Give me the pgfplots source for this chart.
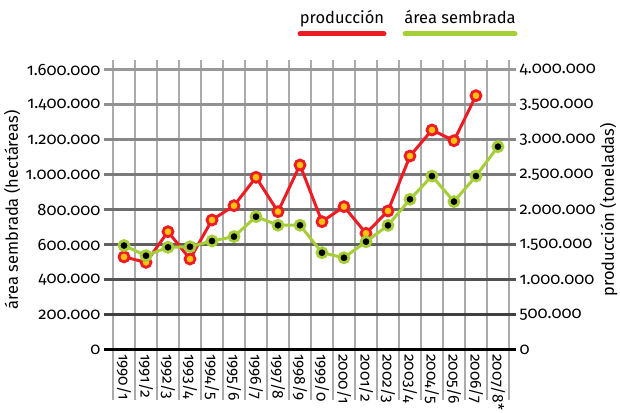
\documentclass[border=0pt]{standalone}
\usepackage{fontspec}
\setmainfont{Fira Sans}[Numbers=OldStyle]
\usepackage{pgfplots}
\pgfplotsset{compat=1.18}

\definecolor{rojo}{HTML}{ED1C24}
\definecolor{verde}{HTML}{A6CE39}
\definecolor{amarillo}{HTML}{FFC20E}
\definecolor{rejilla}{HTML}{ABABAB}

\pgfplotsset{
  base/.style={
    scale only axis, width=412pt, height=340pt,
    at={(104pt,12pt)}, anchor=south west,
    xmin=-0.91, xmax=17.82,
    yticklabel style={font=\fontsize{16.5}{16.5}\selectfont},
    xticklabel style={font=\fontsize{15.5}{15.5}\selectfont},
    label style={font=\fontsize{16.5}{16.5}\selectfont},
    /pgf/number format/fixed,
    /pgf/number format/precision=0,
    /pgf/number format/1000 sep={.},
    /pgf/number format/assume math mode=true,
    scaled y ticks=false,
    major tick length=0pt,
    clip=false,
  }
}

\begin{document}
\begin{tikzpicture}
\useasboundingbox (0,0) rectangle (620pt,412pt);

% eje derecho: produccion (rejilla + serie roja)
\begin{axis}[base,
  ymin=-714286, ymax=4142857,
  axis y line*=right, axis x line*=bottom,
  y axis line style={draw=none}, x axis line style={draw=none},
  ytick={0,500000,...,4000000},
  xtick={-0.5,0.5,...,17.5}, xticklabels={},
  xmajorgrids, x grid style={rejilla, line width=1.5pt},
  ylabel={producción (toneladas)},
  ylabel style={at={(axis description cs:1.225,0.559)}, anchor=center},
]
\draw[line width=3pt, black!40] (axis cs:-0.91,4000000) -- (axis cs:17.82,4000000);
\draw[line width=3pt, black!43] (axis cs:-0.91,3500000) -- (axis cs:17.82,3500000);
\draw[line width=3pt, black!47] (axis cs:-0.91,3000000) -- (axis cs:17.82,3000000);
\draw[line width=3pt, black!52] (axis cs:-0.91,2500000) -- (axis cs:17.82,2500000);
\draw[line width=3pt, black!57] (axis cs:-0.91,2000000) -- (axis cs:17.82,2000000);
\draw[line width=3pt, black!62] (axis cs:-0.91,1500000) -- (axis cs:17.82,1500000);
\draw[line width=3pt, black!68] (axis cs:-0.91,1000000) -- (axis cs:17.82,1000000);
\draw[line width=3pt, black!75] (axis cs:-0.91,500000) -- (axis cs:17.82,500000);
\draw[line width=3pt, black] (axis cs:-0.91,0) -- (axis cs:17.82,0);
\addplot[rojo, line width=3pt, mark=*, mark size=5pt,
  mark options={fill=amarillo, draw=rojo, line width=2.8pt}]
  coordinates {(0,1330000) (1,1252000) (2,1690000) (3,1300000) (4,1857000)
  (5,2062000) (6,2467000) (7,1976000) (8,2643000) (9,1833000) (10,2048000)
  (11,1667000) (12,1986000) (13,2771000) (14,3143000) (15,2990000) (16,3633000)};
\end{axis}

% eje izquierdo: area sembrada (serie verde + categorias)
\begin{axis}[base,
  ymin=-285714, ymax=1657143,
  axis y line*=left, axis x line*=middle,
  y axis line style={draw=none}, x axis line style={draw=none},
  ytick={0,200000,...,1600000},
  xtick={0,...,17},
  xticklabels={1990/1,1991/2,1992/3,1993/4,1994/5,1995/6,1996/7,1997/8,1998/9,
    1999/0,2000/1,2001/2,2002/3,2003/4,2004/5,2005/6,2006/7,2007/8*},
  xticklabel style={rotate=-90, anchor=west, inner sep=4pt},
  ylabel={área sembrada (hectáreas)},
  ylabel style={at={(axis description cs:-0.223,0.559)}, anchor=center},
]
\addplot[verde, line width=3pt, mark=*, mark size=5pt,
  mark options={fill=black, draw=verde, line width=2.8pt}]
  coordinates {(0,597000) (1,539000) (2,587000) (3,590000) (4,623000)
  (5,648000) (6,762000) (7,713000) (8,713000) (9,556000) (10,527000)
  (11,619000) (12,712000) (13,861000) (14,994000) (15,848000) (16,994000)
  (17,1162000)};
\end{axis}

% leyenda
\node[anchor=base, font=\fontsize{16.5}{16.5}\selectfont] at (342pt,388pt) {producción};
\draw[rojo, line width=5pt, line cap=round] (300pt,378pt) -- (384pt,378pt);
\node[anchor=base, font=\fontsize{16.5}{16.5}\selectfont] at (460pt,388pt) {área sembrada};
\draw[verde, line width=5pt, line cap=round] (405pt,378pt) -- (515pt,378pt);
\end{tikzpicture}
\end{document}
